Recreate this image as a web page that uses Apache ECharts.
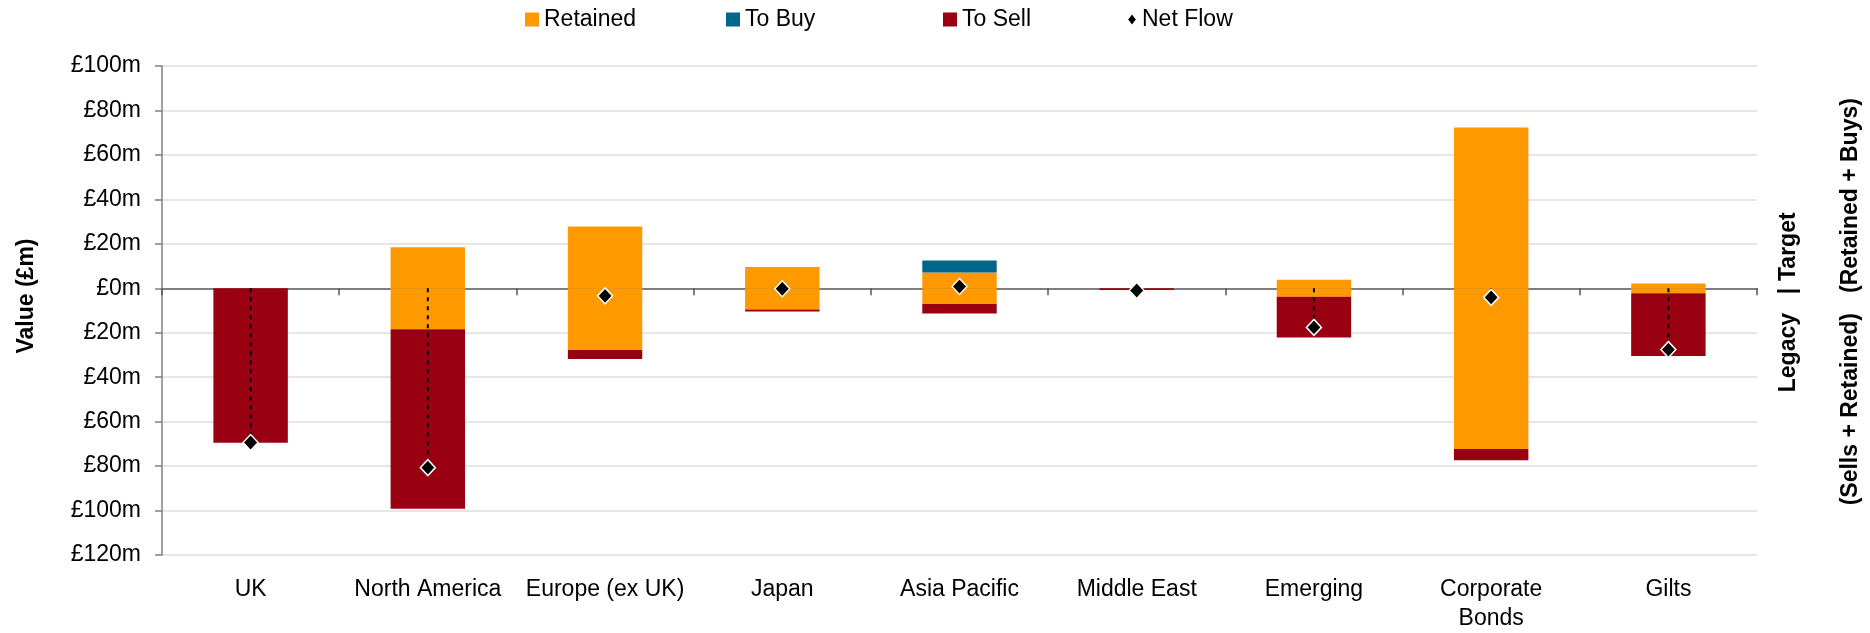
<!DOCTYPE html>
<html>
<head>
<meta charset="utf-8">
<title>Legacy vs Target flows</title>
<script src="https://cdn.jsdelivr.net/npm/echarts@6/dist/echarts.min.js"></script>
<style>
  html, body { margin: 0; padding: 0; background: #ffffff; }
  #chart { width: 1870px; height: 633px; }
</style>
</head>
<body>
<div id="chart"></div>
<script>
// Asset classes along the x axis
const categories = ['UK', 'North America', 'Europe (ex UK)', 'Japan', 'Asia Pacific',
  'Middle East', 'Emerging', 'Corporate\nBonds', 'Gilts'];

// Values in £m
const retained = [0, 18.4, 27.8, 9.6, 7.1, 0, 3.8, 72.3, 2.2];
const toBuy    = [0, 0, 0, 0, 5.4, 0, 0, 0, 0];
const toSell   = [69.5, 80.8, 4.0, 0.8, 4.3, 0.8, 18.4, 5.1, 28.3];
const netFlow  = [-69.4, -80.7, -3.4, -0.2, 0.8, -1.0, -17.6, -4.1, -27.6];

// Value axis ticks
const yMin = -120;
const yMax = 100;
const yStep = 20;

const FONT = 'Liberation Sans, Arial, Helvetica, sans-serif';
const C_RETAINED = '#FF9900';
const C_BUY = '#00668A';
const C_SELL = '#990012';

const chart = echarts.init(document.getElementById('chart'));

const legendBase = {
  top: 8,
  padding: 0,
  itemWidth: 14,
  itemHeight: 14,
  itemGap: 0,
  textStyle: { fontFamily: FONT, fontSize: 23, color: '#000' },
  selectedMode: true
};

chart.setOption({
  animation: false,
  backgroundColor: '#ffffff',
  legend: [
    Object.assign({}, legendBase, { left: 525, data: [{ name: 'Retained', icon: 'rect' }] }),
    Object.assign({}, legendBase, { left: 726, data: [{ name: 'To Buy', icon: 'rect' }] }),
    Object.assign({}, legendBase, { left: 943, data: [{ name: 'To Sell', icon: 'rect' }] }),
    Object.assign({}, legendBase, { left: 1126, itemWidth: 10, itemHeight: 13,
      data: [{ name: 'Net Flow', icon: 'diamond', itemStyle: { color: '#000' } }] })
  ],
  grid: { left: 162, right: 113, top: 66, bottom: 73, containLabel: false },
  xAxis: [
    {
      // category labels along the bottom edge
      type: 'category',
      data: categories,
      position: 'bottom',
      axisLine: { show: false, onZero: false },
      axisTick: { show: false },
      splitLine: { show: false },
      axisLabel: {
        fontFamily: FONT, fontSize: 23, color: '#000',
        margin: 20, lineHeight: 29, interval: 0
      }
    },
    {
      // zero line with category separators
      type: 'category',
      data: categories,
      position: 'top',
      axisLine: { show: true, onZero: true, lineStyle: { color: '#7f7f7f', width: 2 } },
      axisTick: { show: true, inside: true, length: 7, lineStyle: { color: '#555', width: 1.5 } },
      axisLabel: { show: false },
      splitLine: { show: false }
    }
  ],
  yAxis: {
    type: 'value',
    min: yMin,
    max: yMax,
    interval: yStep,
    axisLine: { show: true, lineStyle: { color: '#7f7f7f', width: 1.5 } },
    axisTick: { show: true, length: 7, lineStyle: { color: '#7f7f7f', width: 1.5 } },
    splitLine: { show: true, lineStyle: { color: '#dedede', width: 1.5 } },
    axisLabel: {
      fontFamily: FONT, fontSize: 23, color: '#000', margin: 21,
      formatter: v => '£' + Math.abs(v) + 'm'
    }
  },
  graphic: [
    {
      type: 'text', x: 27, y: 296, rotation: Math.PI / 2,
      style: { text: 'Value (£m)', font: 'bold 23px ' + FONT, fill: '#000',
        align: 'center', verticalAlign: 'middle' }
    },
    {
      type: 'text', x: 1789, y: 281, rotation: Math.PI / 2,
      style: { text: 'Target', font: 'bold 23px ' + FONT, fill: '#000',
        align: 'left', verticalAlign: 'middle' }
    },
    {
      type: 'text', x: 1789, y: 291, rotation: Math.PI / 2,
      style: { text: '|', font: 'bold 23px ' + FONT, fill: '#000',
        align: 'center', verticalAlign: 'middle' }
    },
    {
      type: 'text', x: 1789, y: 313, rotation: Math.PI / 2,
      style: { text: 'Legacy', font: 'bold 23px ' + FONT, fill: '#000',
        align: 'right', verticalAlign: 'middle' }
    },
    {
      type: 'text', x: 1851, y: 293, rotation: Math.PI / 2,
      style: { text: '(Retained + Buys)', font: 'bold 23px ' + FONT, fill: '#000',
        align: 'left', verticalAlign: 'middle' }
    },
    {
      type: 'text', x: 1851, y: 313, rotation: Math.PI / 2,
      style: { text: '(Sells + Retained)', font: 'bold 23px ' + FONT, fill: '#000',
        align: 'right', verticalAlign: 'middle' }
    }
  ],
  series: [
    {
      name: 'Retained', type: 'bar', stack: 'flow', xAxisIndex: 0,
      barWidth: '42%', itemStyle: { color: C_RETAINED },
      data: retained
    },
    {
      name: 'To Buy', type: 'bar', stack: 'flow', xAxisIndex: 0,
      barWidth: '42%', itemStyle: { color: C_BUY },
      data: toBuy
    },
    {
      name: 'Retained', type: 'bar', stack: 'flow', xAxisIndex: 0,
      barWidth: '42%', itemStyle: { color: C_RETAINED },
      data: retained.map(v => -v)
    },
    {
      name: 'To Sell', type: 'bar', stack: 'flow', xAxisIndex: 0,
      barWidth: '42%', itemStyle: { color: C_SELL },
      data: toSell.map(v => -v)
    },
    {
      name: 'Net Flow', type: 'scatter', xAxisIndex: 0, z: 4,
      symbol: 'diamond', symbolSize: [15, 16],
      itemStyle: { color: '#000', borderColor: '#fff', borderWidth: 1.5, opacity: 1 },
      data: netFlow
    },
    {
      // dotted drop line from zero to the net flow marker
      name: 'Net Flow', type: 'custom', xAxisIndex: 0, z: 3,
      itemStyle: { color: '#000' },
      data: netFlow.map((v, i) => [i, v]),
      encode: { x: 0, y: 1 },
      renderItem: function (params, api) {
        const p0 = api.coord([api.value(0), 0]);
        const p1 = api.coord([api.value(0), api.value(1)]);
        return {
          type: 'line',
          shape: { x1: p0[0], y1: p0[1], x2: p1[0], y2: p1[1] },
          style: { stroke: '#000', lineWidth: 2, lineDash: [4, 5] }
        };
      }
    }
  ]
});
</script>
</body>
</html>
